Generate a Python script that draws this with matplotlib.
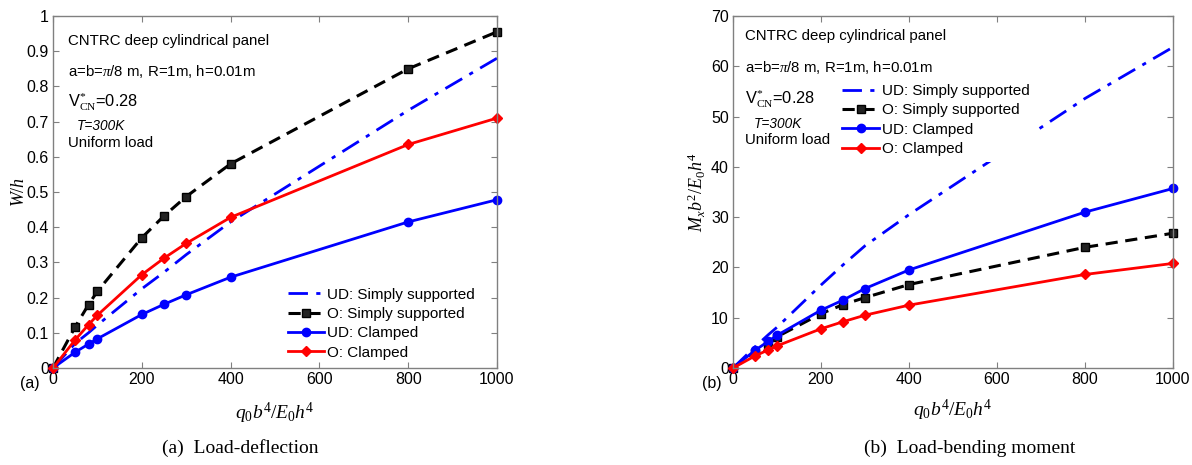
import matplotlib
matplotlib.use("Agg")
import matplotlib.pyplot as plt

plt.rcParams['font.family'] = ['Liberation Sans', 'DejaVu Sans']
plt.rcParams['mathtext.fontset'] = 'custom'
plt.rcParams['mathtext.it'] = 'Liberation Serif:italic'
plt.rcParams['mathtext.rm'] = 'Liberation Serif'

# ---- data ----
load = [0, 50, 80, 100, 200, 250, 300, 400, 800, 1000]

# (a) Load-deflection W/h
w_ud_ss = [0, 0.07, 0.10, 0.122, 0.225, 0.272, 0.322, 0.415, 0.732, 0.880]
w_o_ss = [0, 0.117, 0.180, 0.218, 0.370, 0.432, 0.487, 0.580, 0.850, 0.955]
w_ud_cl = [0, 0.045, 0.068, 0.083, 0.152, 0.181, 0.208, 0.258, 0.415, 0.478]
w_o_cl = [0, 0.080, 0.123, 0.150, 0.265, 0.312, 0.354, 0.428, 0.635, 0.710]

# (b) Load-bending moment Mx b^2/E0 h^4
m_ud_ss = [0, 4.2, 6.6, 8.1, 16.5, 20.5, 24.3, 30.5, 53.6, 63.8]
m_o_ss = [0, 3.0, 4.8, 6.2, 10.8, 12.6, 14.0, 16.6, 24.0, 26.8]
m_ud_cl = [0, 3.5, 5.3, 6.5, 11.5, 13.5, 15.8, 19.5, 31.0, 35.7]
m_o_cl = [0, 2.4, 3.6, 4.4, 7.8, 9.2, 10.5, 12.5, 18.6, 20.8]

legend_labels = ['UD: Simply supported', 'O: Simply supported', 'UD: Clamped', 'O: Clamped']
x_ticks = [0, 200, 400, 600, 800, 1000]
ya_ticks = [0, 0.1, 0.2, 0.3, 0.4, 0.5, 0.6, 0.7, 0.8, 0.9, 1]
ya_ticklabels = ['0', '0.1', '0.2', '0.3', '0.4', '0.5', '0.6', '0.7', '0.8', '0.9', '1']
yb_ticks = [0, 10, 20, 30, 40, 50, 60, 70]

fig = plt.figure(figsize=(11.92, 4.65), dpi=100)
W, H = 1192, 465

def px_axes(l, t, r, b):
    return fig.add_axes([l / W, (H - b) / H, (r - l) / W, (b - t) / H])

axa = px_axes(53, 16, 497, 368)
axb = px_axes(733, 16, 1173, 368)

BLUE = '#0000ff'
RED = '#ff0000'
BLACK = '#000000'

def draw(ax, ud_ss, o_ss, ud_cl, o_cl):
    l1, = ax.plot(load, ud_ss, color=BLUE, ls=(0, (7, 3, 1.5, 3)), lw=2.0, label=legend_labels[0])
    l2, = ax.plot(load, o_ss, color=BLACK, ls=(0, (4, 2.5)), lw=2.2, marker='s', ms=6,
                  mfc='#222222', mec=BLACK, label=legend_labels[1])
    l3, = ax.plot(load, ud_cl, color=BLUE, ls='-', lw=2.0, marker='o', ms=6,
                  mfc=BLUE, mec=BLUE, label=legend_labels[2])
    l4, = ax.plot(load, o_cl, color=RED, ls='-', lw=2.0, marker='D', ms=5,
                  mfc=RED, mec=RED, label=legend_labels[3])
    for ln in [l1, l2, l3, l4]:
        ln.set_clip_on(False)
    return [l1, l2, l3, l4]

def style(ax):
    ax.set_xlim(0, 1000)
    ax.set_xticks(x_ticks)
    ax.tick_params(direction='in', length=4, width=0.8, colors='#808080', labelcolor='black',
                   labelsize=11.5, top=True, right=True, pad=3)
    for s in ax.spines.values():
        s.set_color('#808080')
        s.set_linewidth(1.0)

ha = draw(axa, w_ud_ss, w_o_ss, w_ud_cl, w_o_cl)
style(axa)
axa.set_ylim(0, 1)
axa.set_yticks(ya_ticks)
axa.set_yticklabels(ya_ticklabels)

hb = draw(axb, m_ud_ss, m_o_ss, m_ud_cl, m_o_cl)
style(axb)
axb.set_ylim(0, 70)
axb.set_yticks(yb_ticks)

# axis labels
axa.set_xlabel(r'$q_0b^4/E_0h^4$', fontsize=14, labelpad=10)
axa.set_ylabel(r'$W/h$', fontsize=13, labelpad=-1)
axb.set_xlabel(r'$q_0b^4/E_0h^4$', fontsize=14, labelpad=8)
axb.set_ylabel(r'$M_xb^2/E_0h^4$', fontsize=13, labelpad=2)

# annotations
def annot(ax, x0, ys):
    tf = ax.transAxes
    fs = 10.8
    ax.text(x0, ys[0], 'CNTRC deep cylindrical panel', transform=tf, fontsize=fs, va='center')
    ax.text(x0, ys[1], r'a=b=$\pi$/8 m, R=1m, h=0.01m', transform=tf, fontsize=fs, va='center')
    ax.text(x0, ys[2], r'V$^{*}_{\mathrm{CN}}$=0.28', transform=tf, fontsize=fs + 1, va='center')
    ax.text(x0 + 0.02, ys[3], 'T=300K', transform=tf, fontsize=fs - 1, style='italic', va='center')
    ax.text(x0, ys[4], 'Uniform load', transform=tf, fontsize=fs, va='center')

def fy(py):
    return (368 - py) / 352

annot(axa, 15 / 444, [fy(41), fy(72), fy(102), fy(126), fy(143)])
annot(axb, 12 / 440, [fy(36), fy(68), fy(99), fy(124), fy(140)])

lega = axa.legend(handles=ha, loc='lower right', bbox_to_anchor=(0.975, -0.007), frameon=False,
                  fontsize=11, handlelength=2.4, handletextpad=0.2, labelspacing=0.35,
                  borderaxespad=0.3)
legb = axb.legend(handles=hb, loc='upper left', bbox_to_anchor=(0.224, 0.837), frameon=True,
                  fontsize=11, handlelength=2.4, handletextpad=0.2, labelspacing=0.35,
                  borderaxespad=0.3, facecolor='white', edgecolor='none', framealpha=1.0)
legb.set_zorder(5)

# panel tags
fig.text(30 / W, (H - 383) / H, '(a)', fontsize=11.5, ha='center', va='center')
fig.text(712 / W, (H - 383) / H, '(b)', fontsize=11.5, ha='center', va='center')

# captions
fig.text(240 / W, (H - 448) / H, '(a)  Load-deflection', fontsize=14,
         family='Liberation Serif', ha='center', va='center')
fig.text(970 / W, (H - 448) / H, '(b)  Load-bending moment', fontsize=14,
         family='Liberation Serif', ha='center', va='center')

fig.savefig('out.png', dpi=100)
